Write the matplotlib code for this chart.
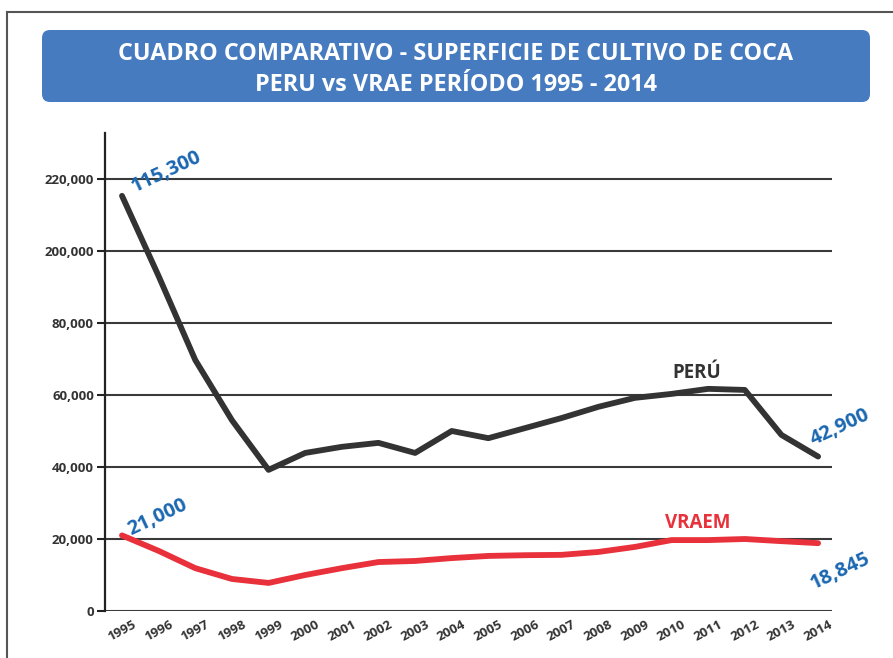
import matplotlib
matplotlib.use("Agg")
import matplotlib.pyplot as plt
from matplotlib.patches import FancyBboxPatch
from matplotlib.lines import Line2D

years = list(range(1995, 2015))
peru = [115300, 93000, 69700, 53000, 39200, 43900, 45600, 46700, 43900, 50000,
        48000, 50800, 53600, 56700, 59200, 60300, 61700, 61400, 48900, 42900]
vraem = [21000, 16700, 11900, 8900, 7800, 10000, 11900, 13600, 13900, 14700,
         15300, 15500, 15600, 16400, 17800, 19700, 19700, 20000, 19400, 18845]

ytick_pos = [0, 20000, 40000, 60000, 80000, 100000, 120000]
ytick_labels = ['0', '20,000', '40,000', '60,000', '80,000', '200,000', '220,000']

title = "CUADRO COMPARATIVO - SUPERFICIE DE CULTIVO DE COCA\nPERU vs VRAE PERÍODO 1995 - 2014"

dark = '#333333'
red = '#e8313b'
blue = '#1a67b1'

plt.rcParams['font.family'] = ['Open Sans', 'DejaVu Sans']

fig = plt.figure(figsize=(8.93, 6.58), dpi=100)
ax = fig.add_axes([0.1176, 0.0714, 0.8141, 0.7266])

# frame around the whole panel
fig.add_artist(Line2D([0.008, 1.0], [0.9818, 0.9818], transform=fig.transFigure,
                      color='#555555', lw=1.5))
fig.add_artist(Line2D([0.008, 0.008], [0.0, 0.9818], transform=fig.transFigure,
                      color='#555555', lw=1.5))

# title box
box = FancyBboxPatch((0.42, 5.56), 8.28, 0.72,
                     boxstyle="round,pad=0,rounding_size=0.08",
                     transform=fig.dpi_scale_trans, facecolor='#467cbf',
                     edgecolor='none')
fig.add_artist(box)
fig.text(0.5106, 0.8944, title, ha='center', va='center', color='white',
         fontsize=16.8, fontweight='bold', linespacing=1.42)

ax.plot(years, peru, color=dark, lw=4.2, solid_capstyle='round', solid_joinstyle='round', zorder=3)
ax.plot(years, vraem, color=red, lw=4.2, solid_capstyle='round', solid_joinstyle='round', zorder=3)

ax.set_xlim(1994.536, 2014.38)
ax.set_ylim(0, 132778)
ax.set_yticks(ytick_pos)
ax.set_yticklabels(ytick_labels)
ax.set_xticks(years)
ax.set_xticklabels([str(y) for y in years], rotation=28, ha='center', rotation_mode='default')

for sp in ['top', 'right', 'bottom']:
    ax.spines[sp].set_visible(False)
ax.spines['left'].set_linewidth(1.6)
ax.spines['left'].set_color('#222222')

ax.grid(axis='y', color='#3a3a3a', lw=1.5)
ax.set_axisbelow(True)
ax.tick_params(axis='y', length=6, width=1.5, color='#222222', labelsize=9.5,
               labelcolor=dark, pad=2)
ax.tick_params(axis='x', length=0, labelsize=9.5, labelcolor=dark, pad=5)
for lbl in ax.get_yticklabels() + ax.get_xticklabels():
    lbl.set_fontweight('bold')

ann = dict(color=blue, fontsize=14.5, fontweight='bold', rotation=25,
           textcoords='offset points', ha='center', va='center')
ax.annotate('115,300', xy=(years[0], peru[0]), xytext=(32, 17), **ann)
ax.annotate('21,000', xy=(years[0], vraem[0]), xytext=(26, 13), **ann)
ax.annotate('42,900', xy=(years[-1], peru[-1]), xytext=(16, 21), **ann)
ax.annotate('18,845', xy=(years[-1], vraem[-1]), xytext=(16, -20), **ann)

ax.text(2010.7, 66100, 'PERÚ', color=dark, fontsize=13.5, fontweight='bold',
        ha='center', va='center')
ax.text(2010.7, 24400, 'VRAEM', color=red, fontsize=13.5, fontweight='bold',
        ha='center', va='center')

fig.savefig('out.png', dpi=100)
